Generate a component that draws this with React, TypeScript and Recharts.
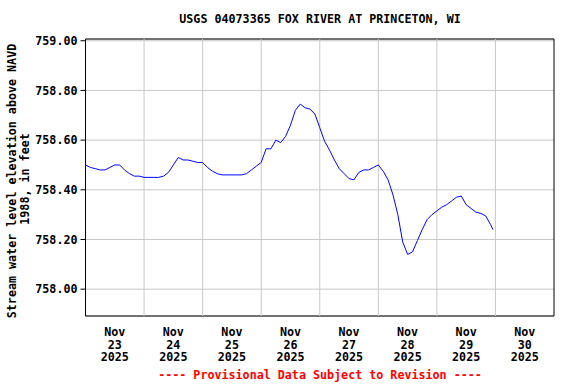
import React from "react"
import {
  LineChart,
  Line,
  XAxis,
  YAxis,
  CartesianGrid,
  ReferenceLine,
  ReferenceArea,
} from "recharts"

// hours since Nov 23 2025 00:00
const hours = [
  0, 2, 4, 6, 8, 10, 12, 14, 16, 18, 20, 22, 24, 26, 28, 30, 32, 34, 36, 38,
  40, 42, 44, 46, 48, 50, 52, 54, 56, 58, 60, 62, 64, 66, 68, 70, 72, 74, 76,
  78, 80, 82, 84, 86, 88, 90, 92, 94, 96, 98, 100, 102, 104, 106, 108, 110,
  112, 114, 116, 118, 120, 122, 124, 126, 128, 130, 132, 134, 136, 138, 140,
  142, 144, 146, 148, 150, 152, 154, 156, 158, 160, 162, 164, 166, 167,
]

// stream water level elevation, feet above NAVD 1988
const levels = [
  758.5, 758.49, 758.485, 758.48, 758.48, 758.49, 758.5, 758.5, 758.48,
  758.465, 758.455, 758.455, 758.45, 758.45, 758.45, 758.45, 758.455, 758.47,
  758.5, 758.53, 758.52, 758.52, 758.515, 758.51, 758.51, 758.49, 758.475,
  758.465, 758.46, 758.46, 758.46, 758.46, 758.46, 758.465, 758.48, 758.495,
  758.51, 758.565, 758.565, 758.6, 758.59, 758.615, 758.66, 758.72, 758.745,
  758.73, 758.725, 758.705, 758.65, 758.595, 758.56, 758.52, 758.485, 758.465,
  758.445, 758.44, 758.47, 758.48, 758.48, 758.49, 758.5, 758.475, 758.44,
  758.38, 758.3, 758.19, 758.14, 758.15, 758.195, 758.24, 758.28, 758.3,
  758.315, 758.33, 758.34, 758.355, 758.37, 758.375, 758.34, 758.325, 758.31,
  758.305, 758.295, 758.26, 758.24,
]

const dayLabels = ["23", "24", "25", "26", "27", "28", "29", "30"]
const dayBounds = [24, 48, 72, 96, 120, 144, 168]
const yTicks = [758.0, 758.2, 758.4, 758.6, 758.8, 759.0]

const data = hours.map((h, i) => ({ h, v: levels[i] }))

const FONT = "'DejaVu Sans Mono', 'Liberation Mono', monospace"
const Y_MIN = 757.892
const Y_MAX = 759.007

const DayTick = (props: any) => {
  const { x, y, payload } = props
  const idx = Math.round((payload.value - 12) / 24)
  return (
    <text
      x={x}
      y={y}
      textAnchor="middle"
      fontFamily={FONT}
      fontWeight="bold"
      fontSize={11.7}
      fill="#000"
    >
      <tspan x={x} dy={18}>Nov</tspan>
      <tspan x={x} dy={12.7}>{dayLabels[idx]}</tspan>
      <tspan x={x} dy={12.7}>2025</tspan>
    </text>
  )
}

export default function App() {
  return (
    <div
      style={{
        position: "absolute",
        left: 0,
        top: 0,
        width: 576,
        height: 384,
        background: "#fff",
      }}
    >
      <LineChart
        width={576}
        height={384}
        data={data}
        margin={{ top: 39, right: 22, bottom: 0, left: 0 }}
      >
        <CartesianGrid vertical={false} stroke="#c8c8c8" />
        {dayBounds.map((d) => (
          <ReferenceLine key={d} x={d} stroke="#c8c8c8" />
        ))}
        <XAxis
          dataKey="h"
          type="number"
          domain={[0, 192]}
          ticks={[12, 36, 60, 84, 108, 132, 156, 180]}
          tick={<DayTick />}
          tickLine={false}
          tickSize={0}
          axisLine={false}
          interval={0}
          height={68}
        />
        <YAxis
          type="number"
          domain={[Y_MIN, Y_MAX]}
          ticks={yTicks}
          allowDataOverflow
          width={85.5}
          axisLine={false}
          tickLine={{ stroke: "#000" }}
          tickSize={5}
          tickMargin={3}
          interval={0}
          tickFormatter={(v: number) => v.toFixed(2)}
          tick={{
            fill: "#000",
            fontFamily: FONT,
            fontWeight: "bold",
            fontSize: 11.7,
          }}
        />
        <ReferenceArea
          x1={0}
          x2={192}
          y1={Y_MIN}
          y2={Y_MAX}
          fill="none"
          stroke="#000"
          strokeWidth={1}
          ifOverflow="visible"
        />
        <Line
          type="linear"
          dataKey="v"
          stroke="#0000ff"
          strokeWidth={1}
          dot={false}
          isAnimationActive={false}
        />
      </LineChart>
      <svg
        width={576}
        height={384}
        style={{ position: "absolute", left: 0, top: 0, pointerEvents: "none" }}
      >
        <text
          x={320}
          y={23}
          textAnchor="middle"
          fontFamily={FONT}
          fontWeight="bold"
          fontSize={11.7}
        >
          USGS 04073365 FOX RIVER AT PRINCETON, WI
        </text>
        <text
          transform="translate(16,181) rotate(-90)"
          textAnchor="middle"
          fontFamily={FONT}
          fontWeight="bold"
          fontSize={11.7}
        >
          Stream water level elevation above NAVD
        </text>
        <text
          transform="translate(29,179) rotate(-90)"
          textAnchor="middle"
          fontFamily={FONT}
          fontWeight="bold"
          fontSize={11.7}
        >
          1988, in feet
        </text>
        <text
          x={320}
          y={379}
          textAnchor="middle"
          fontFamily={FONT}
          fontWeight="bold"
          fontSize={11.7}
          fill="#ff0000"
        >
          ---- Provisional Data Subject to Revision ----
        </text>
      </svg>
    </div>
  )
}
